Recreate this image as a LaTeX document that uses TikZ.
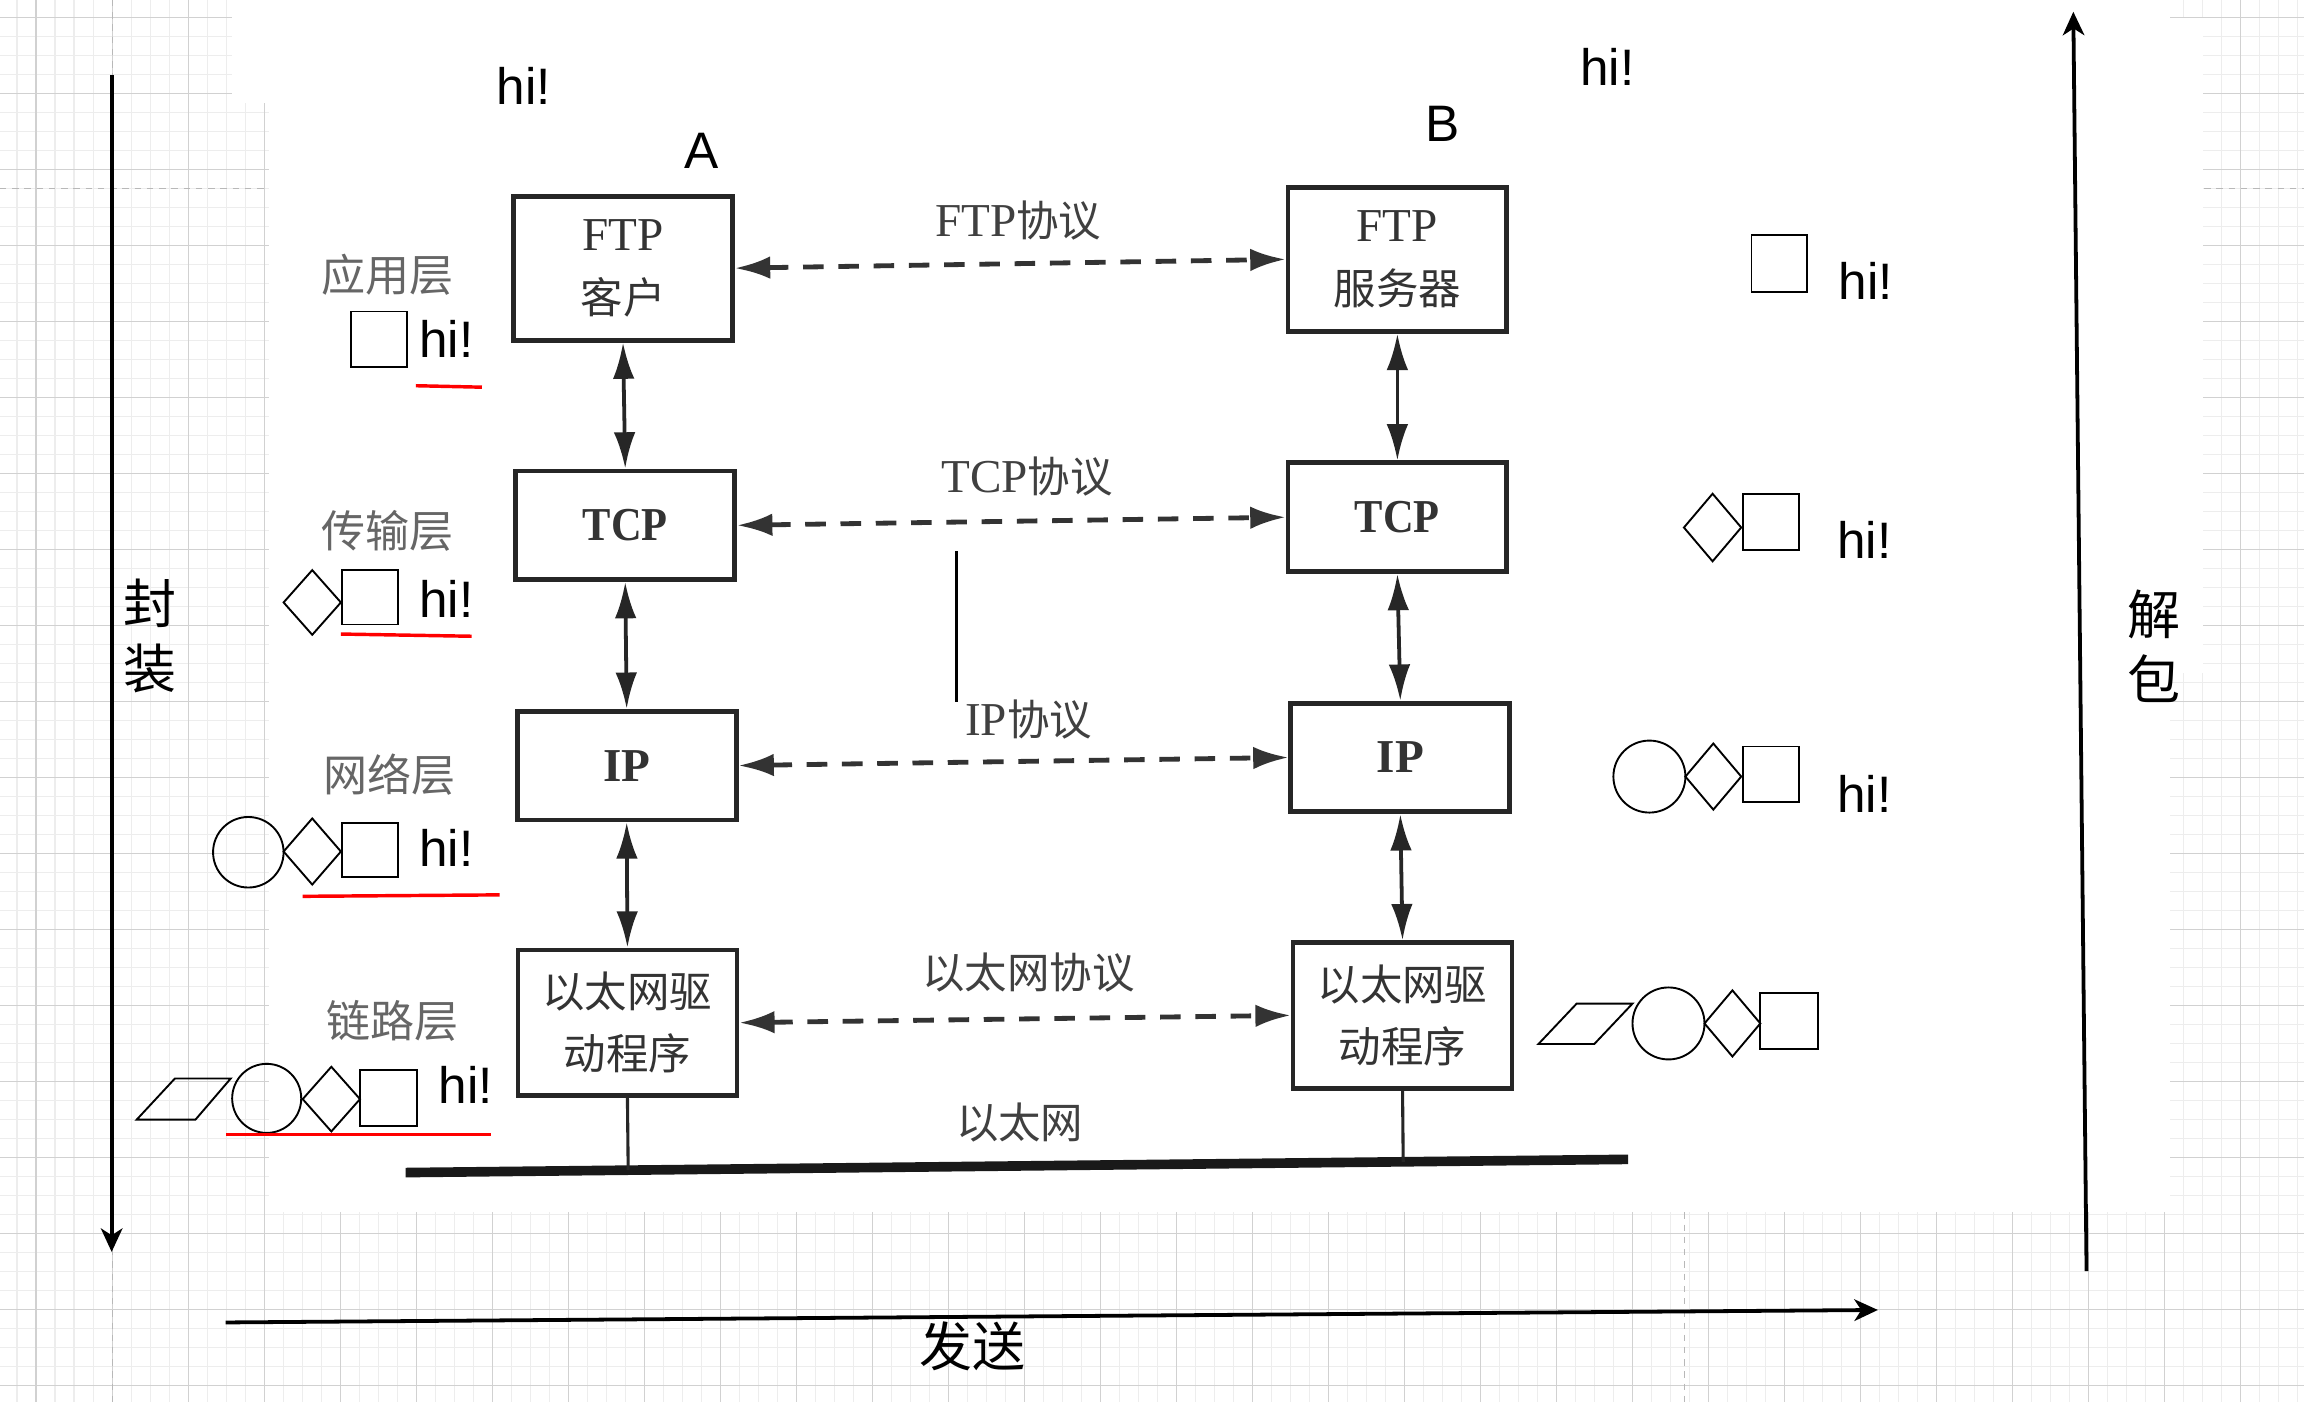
\documentclass[tikz,border=0pt]{standalone}
\usepackage{fontspec}
\setmainfont{Liberation Serif}
\newfontfamily\cjk[Scale=0.9]{Noto Sans CJK SC}
\newfontfamily\cjkfull{Noto Sans CJK SC}
\newfontfamily\hv{Liberation Sans}
\usetikzlibrary{arrows.meta,calc}

\tikzset{
  gridminor/.style={draw=black!7, line width=0.3pt},
  gridmajor/.style={draw=black!18, line width=0.3pt},
  pagebreak/.style={draw=black!28, line width=0.3pt, dash pattern=on 0.65mm off 0.6mm},
  layerbox/.style={draw=black!85, line width=1.4pt, minimum width=22.35mm, inner sep=0pt,
    align=center, text=black!80, font=\fontsize{13.7}{18.3}\selectfont},
  ftpbox/.style={layerbox, minimum height=14.7mm},
  midbox/.style={layerbox, minimum height=11.1mm, font=\fontsize{13.7}{18.3}\selectfont\bfseries},
  ethbox/.style={layerbox, minimum height=14.85mm, font=\fontsize{13.7}{17.9}\selectfont\cjk},
  updown/.style={draw=black!85, line width=1.1pt,
    {Latex[length=3.7mm,width=2.2mm]}-{Latex[length=3.7mm,width=2.2mm]}},
  peer/.style={draw=black!80, line width=1.4pt, dash pattern=on 2.1mm off 1.5mm,
    {Latex[length=3.6mm,width=2.3mm]}-{Latex[length=3.6mm,width=2.3mm]}},
  protolabel/.style={inner sep=0pt, text=black!75, font=\fontsize{13.7}{16}\selectfont},
  layerlabel/.style={inner sep=0pt, text=black!60, font=\fontsize{12.8}{15}\selectfont\cjkfull},
  hilabel/.style={inner sep=0pt, font=\fontsize{14.9}{17}\selectfont\hv},
  bigarrow/.style={draw=black, line width=1.1pt, -{Stealth[length=2.4mm,width=2.2mm,inset=0.7mm]}},
  axislabel/.style={inner sep=0pt, align=center, font=\fontsize{15.4}{18.8}\selectfont\cjkfull},
  pk/.style={draw=black, line width=0.55pt},
  redline/.style={draw=red, line width=1pt},
}

% diamond outline: centre x, centre y, width, height
\newcommand{\pkgem}[4]{\draw[pk] ({#1-#3/2},#2) -- (#1,{#2-#4/2}) -- ({#1+#3/2},#2) -- (#1,{#2+#4/2}) -- cycle;}
% narrow bold lettering of the stack boxes
\newcommand{\narrow}[1]{\scalebox{0.9}[1]{#1}}

\begin{document}
\begin{tikzpicture}[x=0.15mm, y=-0.15mm]
\useasboundingbox (0,0) rectangle (1568,954);
\fill[white] (0,0) rectangle (1568,954);

% editor grid
\foreach \i in {-1,...,121} {\draw[gridminor] ({24.5+12.935*\i},0) -- ({24.5+12.935*\i},954);}
\foreach \i in {0,...,73} {\draw[gridminor] (0,{11.8+12.935*\i}) -- (1568,{11.8+12.935*\i});}
\foreach \i in {0,...,30} {\draw[gridmajor] ({24.5+51.74*\i},0) -- ({24.5+51.74*\i},954);}
\foreach \i in {0,...,18} {\draw[gridmajor] (0,{11.8+51.74*\i}) -- (1568,{11.8+51.74*\i});}
\draw[pagebreak] (76.5,0) -- (76.5,954);
\draw[pagebreak] (1146.5,0) -- (1146.5,954);
\draw[pagebreak] (0,128) -- (1568,128);

% white drawing area
\fill[white] (158,0) rectangle (1477,70);
\fill[white] (183,70) rectangle (1477,825);
\fill[white] (1476,12) rectangle (1499,458);

% protocol stacks
\node[ftpbox] (fa) at (424,182.5) {FTP\\{\cjk 客户}};
\node[midbox] (ta) at (425.5,357.5) {\narrow{TCP}};
\node[midbox] (ia) at (426.5,521) {IP};
\node[ethbox] (ea) at (427,696) {以太网驱\\动程序};
\node[ftpbox] (fb) at (951,176.5) {FTP\\{\cjk 服务器}};
\node[midbox] (tb) at (951,352) {\narrow{TCP}};
\node[midbox] (ib) at (953,515.5) {IP};
\node[ethbox] (eb) at (954.5,691) {以太网驱\\动程序};

\draw[updown] (fa.south) -- (ta.north);
\draw[updown] (ta.south) -- (ia.north);
\draw[updown] (ia.south) -- (ea.north);
\draw[updown] (fb.south) -- (tb.north);
\draw[updown] (tb.south) -- (ib.north);
\draw[updown] (ib.south) -- (eb.north);

\draw[peer] (fa.east) -- (fb.west);
\draw[peer] (ta.east) -- (tb.west);
\draw[peer] (ia.east) -- (ib.west);
\draw[peer] (ea.east) -- (eb.west);

\node[protolabel] (pftp) at (693,150) {FTP{\cjk 协议}};
\node[protolabel] (ptcp) at (699,324) {TCP{\cjk 协议}};
\node[protolabel] (pip) at (700,490) {IP{\cjk 协议}};
\node[protolabel] (peth) at (700,662) {\cjk 以太网协议};
\node[protolabel] (pnet) at (694,764) {\cjk 以太网};

\node[layerlabel] (lapp) at (264,187) {应用层};
\node[layerlabel] (ltra) at (264,361) {传输层};
\node[layerlabel] (lnet) at (265,527) {网络层};
\node[layerlabel] (llnk) at (267,695) {链路层};

% ethernet cable
\coordinate (busL) at (276,798);
\coordinate (busR) at (1108,789);
\draw[line width=2.8pt, black!90] (busL) -- (busR);
\draw[line width=0.9pt, black!85] (ea.south) -- ($(busL)!(ea.south)!(busR)$);
\draw[line width=0.9pt, black!85] (eb.south) -- ($(busL)!(eb.south)!(busR)$);

\coordinate (tick1) at (651,375);
\coordinate (tick2) at (651,478);
\draw[line width=0.9pt] (tick1) -- (tick2);

% host names and messages
\node[hilabel, anchor=base] (hostA) at (477.5,114.6) {A};
\node[hilabel, anchor=base] (hostB) at (982,96.4) {B};
\node[hilabel, anchor=base west] (h0) at (337.5,70.8) {hi!};
\node[hilabel, anchor=base west] (h1) at (1075,58) {hi!};

% sender side: headers added layer by layer
\node[hilabel, anchor=base west] (s1) at (285,243) {hi!};
\node[hilabel, anchor=base west] (s2) at (285,420) {hi!};
\node[hilabel, anchor=base west] (s3) at (285,590) {hi!};
\node[hilabel, anchor=base west] (s4) at (298,751) {hi!};

\draw[pk] (239,212) rectangle (277,250);

\pkgem{212.5}{410}{39}{44}
\draw[pk] (233,388) rectangle (271,425);

\draw[pk] (169,580) circle[radius=24];
\pkgem{212.5}{579.5}{39}{45}
\draw[pk] (233,560) rectangle (271,597);

\draw[pk] (93,762) -- (133,762) -- (157,734) -- (119,734) -- cycle;
\draw[pk] (181.5,747.5) circle[radius=23.5];
\pkgem{225.5}{748}{39}{44}
\draw[pk] (245,728) rectangle (284,766);

\draw[redline] (283,262.5) -- (328,263.5);
\draw[redline] (232,431.5) -- (321,433);
\draw[redline] (206,610) -- (340,609);
\draw[redline] (154,772) -- (334,772);

% receiver side: headers removed layer by layer
\node[hilabel, anchor=base west] (r1) at (1251,204) {hi!};
\node[hilabel, anchor=base west] (r2) at (1250,380) {hi!};
\node[hilabel, anchor=base west] (r3) at (1250,553) {hi!};

\draw[pk] (1192,160) rectangle (1230,199);

\pkgem{1165.5}{359}{39}{46}
\draw[pk] (1186,336) rectangle (1224,374);

\draw[pk] (1122.5,528.5) circle[radius=24.5];
\pkgem{1166}{528.5}{38}{45}
\draw[pk] (1186,508) rectangle (1224,546);

\draw[pk] (1047,710.5) -- (1085,710.5) -- (1111,683) -- (1073,683) -- cycle;
\draw[pk] (1135.5,696.5) circle[radius=24.5];
\pkgem{1179}{696.5}{38}{45}
\draw[pk] (1198,676) rectangle (1237,714);

% direction arrows
\coordinate (encS) at (76,51);
\coordinate (encE) at (76,852);
\draw[bigarrow] (encS) -- (encE);
\coordinate (sendS) at (153.5,900);
\coordinate (sendE) at (1278,891.5);
\draw[bigarrow] (sendS) -- (sendE);
\coordinate (decS) at (1420,865);
\coordinate (decE) at (1411,8);
\draw[bigarrow] (decS) -- (decE);

\node[axislabel] (enc) at (102,433) {封\\装};
\node[axislabel] (dec) at (1466,440) {解\\包};
\node[axislabel] (send) at (662,916) {发送};
\end{tikzpicture}
\end{document}
